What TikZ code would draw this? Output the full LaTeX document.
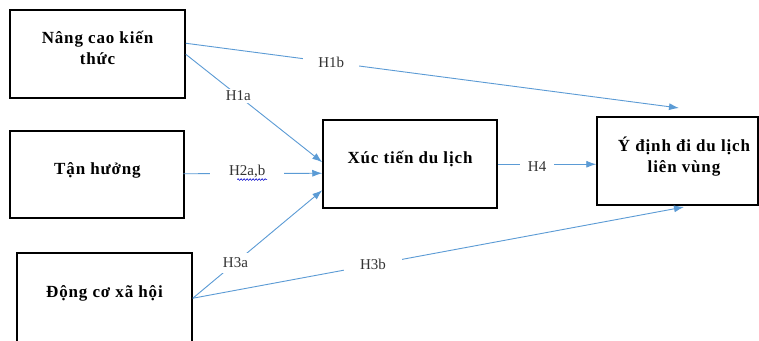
\documentclass[tikz,border=0pt]{standalone}
\usepackage{fontspec}
\setmainfont{Liberation Serif}
\newfontfamily\boxfont[LetterSpace=5]{Liberation Serif}
\usetikzlibrary{arrows.meta,decorations.pathmorphing,calc}
\definecolor{lnk}{HTML}{5B9BD5}
\begin{document}
\begin{tikzpicture}[x=1pt,y=-1pt,
  box/.style={draw=black,line width=1.5pt,inner sep=0pt},
  btext/.style={font=\boxfont\fontsize{17}{21}\selectfont\bfseries,align=center,inner sep=0pt},
  lab/.style={font=\fontsize{15}{17}\selectfont,fill=white,inner sep=0pt,text=black!80},
  link/.style={draw=lnk,line width=0.9pt,-{Latex[length=10pt,width=7pt]}}]
\useasboundingbox (0,0) rectangle (759,340);
\fill[white] (0,0) rectangle (759,340);
% boxes
\node[box,minimum width=175pt,minimum height=88pt] (b1) at (97.5,54) {};
\node[box,minimum width=174pt,minimum height=87pt] (b2) at (97,174.5) {};
\node[box,minimum width=175pt,minimum height=92pt] (b3) at (104.5,299) {};
\node[box,minimum width=174pt,minimum height=88pt] (b4) at (410,164) {};
\node[box,minimum width=161pt,minimum height=88pt] (b5) at (677.5,161) {};
% texts
\node[btext] (t1) at (97.5,47.5) {Nâng cao kiến\\thức};
\node[btext] (t2) at (97.5,170) {Tận hưởng};
\node[btext] (t3) at (104.5,293) {Động cơ xã hội};
\node[btext] (t4) at (410,159) {Xúc tiến du lịch};
\node[btext] (t5) at (684,156.5) {Ý định đi du lịch\\liên vùng};
% anchor points
\coordinate (s1b) at ($(b1.north east)+(0,34)$);
\coordinate (s1a) at ($(b1.north east)+(0,45)$);
\coordinate (e1a) at ($(b4.north west)+(0,43)$);
\coordinate (s2) at ($(b2.north west)+(174,43.5)$);
\coordinate (e2) at ($(b4.north west)+(0,54)$);
\coordinate (s3) at ($(b3.north east)+(0,46)$);
\coordinate (e3a) at ($(b4.north west)+(0,71)$);
\coordinate (e1b) at (679,108);
\coordinate (e3b) at (684,207);
\coordinate (s4) at ($(b4.north east)+(0,45)$);
\coordinate (e4) at ($(b5.north west)+(0,48)$);
% connectors
\draw[link] (s1b) -- node[lab,pos=0.295,inner xsep=15pt] (h1b) {H1b} (e1b);
\draw[link] (s1a) -- node[lab,pos=0.385,inner xsep=6pt,inner ysep=2pt] (h1a) {H1a} (e1a);
\draw[link] (s2) -- node[lab,pos=0.46,inner xsep=19pt,yshift=2pt] (h2) {H2a,b} (e2);
\draw[link] (s3) -- node[lab,pos=0.33,inner xsep=2pt,inner ysep=5pt] (h3a) {H3a} (e3a);
\draw[link] (s3) -- node[lab,pos=0.367,inner xsep=16pt,inner ysep=1pt] (h3b) {H3b} (e3b);
\draw[link] (s4) -- node[lab,pos=0.4,inner xsep=8pt,yshift=-2pt] (h4) {H4} (e4);
% spell-check underline
\draw[blue!80!black,line width=0.6pt,decorate,decoration={snake,amplitude=0.8pt,segment length=3pt}]
  ($(h2.base)+(-10,4)$) -- ($(h2.base)+(20,4)$);
\end{tikzpicture}
\end{document}
